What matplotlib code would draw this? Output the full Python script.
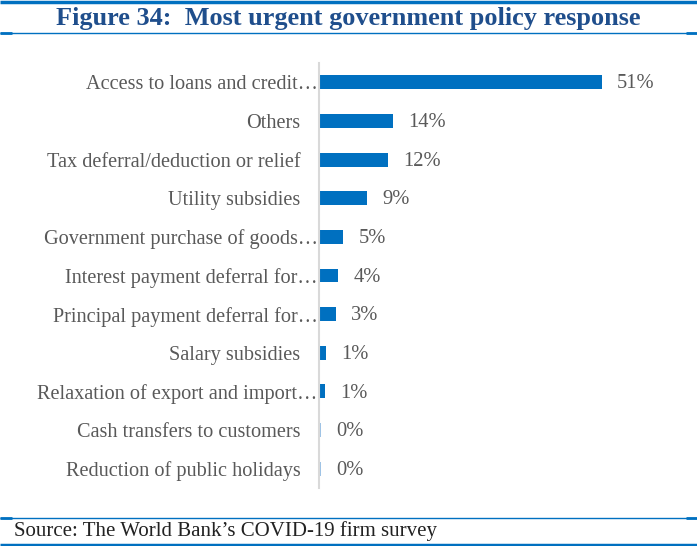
import matplotlib
matplotlib.use("Agg")
import matplotlib.pyplot as plt
from matplotlib.lines import Line2D
from matplotlib.transforms import ScaledTranslation

categories = [
    "Access to loans and credit…",
    "Others",
    "Tax deferral/deduction or relief",
    "Utility subsidies",
    "Government purchase of goods…",
    "Interest payment deferral for…",
    "Principal payment deferral for…",
    "Salary subsidies",
    "Relaxation of export and import…",
    "Cash transfers to customers",
    "Reduction of public holidays",
]
values = [51.0, 13.3, 12.3, 8.5, 4.2, 3.3, 2.9, 1.1, 0.9, 0.25, 0.15]
value_labels = ["51%", "14%", "12%", "9%", "5%", "4%", "3%", "1%", "1%", "0%", "0%"]

title = "Figure 34:  Most urgent government policy response"
source = "Source: The World Bank\u2019s COVID-19 firm survey"

W, H = 697, 546
fig = plt.figure(figsize=(W / 100, H / 100), dpi=100)
serif = ["Liberation Serif", "DejaVu Serif"]
blue = "#0070C0"
gray = "#595959"

px_per_pct = 5.53
xmax = 60
ax_left = 319 / W
ax_w = xmax * px_per_pct / W
ax_top = 63
ax_bot = 488
ax = fig.add_axes([ax_left, 1 - ax_bot / H, ax_w, (ax_bot - ax_top) / H])

y = list(range(len(categories)))
colors = [blue] * 9 + ["#9DC3E6", "#9DC3E6"]
ax.barh(y, values, height=0.36, color=colors, left=0.15)
ax.set_ylim(len(categories) - 0.5, -0.5)
ax.set_xlim(0, xmax)
ax.set_yticks(y)
ax.set_yticklabels(categories, family=serif, fontsize=14.6, color=gray)
ax.tick_params(axis="y", length=0, pad=1)
for lab in ax.get_yticklabels():
    if not lab.get_text().endswith("…"):
        lab.set_transform(lab.get_transform() + ScaledTranslation(-17 / 100, 0, fig.dpi_scale_trans))
ax.set_xticks([])
for s in ["top", "right", "bottom"]:
    ax.spines[s].set_visible(False)
ax.spines["left"].set_color("#D9D9D9")
ax.spines["left"].set_linewidth(1.5)

for yi, v, lab in zip(y, values, value_labels):
    ax.annotate(lab, (v + 0.15, yi), xytext=(11, -1.2), textcoords="offset points",
                va="center", ha="left", family=serif, fontsize=14.8, color=gray)

fig.text(0.5, 1 - 18 / H, title, ha="center", va="center", family=serif,
         fontsize=18.9, fontweight="bold", color="#1F4E8C")
fig.text(14 / W, 1 - 531 / H, source, ha="left", va="center", family=serif,
         fontsize=15, color="#222222")

def hline(ypx, lw, x0=0, x1=W):
    fig.add_artist(Line2D([x0 / W, x1 / W], [1 - ypx / H, 1 - ypx / H],
                          color=blue, linewidth=lw, solid_capstyle="butt"))

hline(1.5, 2.5)
hline(33, 1.0)
hline(33, 2.0, 0, 12)
hline(33, 2.0, 686, W)
hline(518, 1.0)
hline(518, 2.0, 0, 12)
hline(518, 2.0, 686, W)
hline(544.5, 2.5)

fig.savefig("out.png", dpi=100)
